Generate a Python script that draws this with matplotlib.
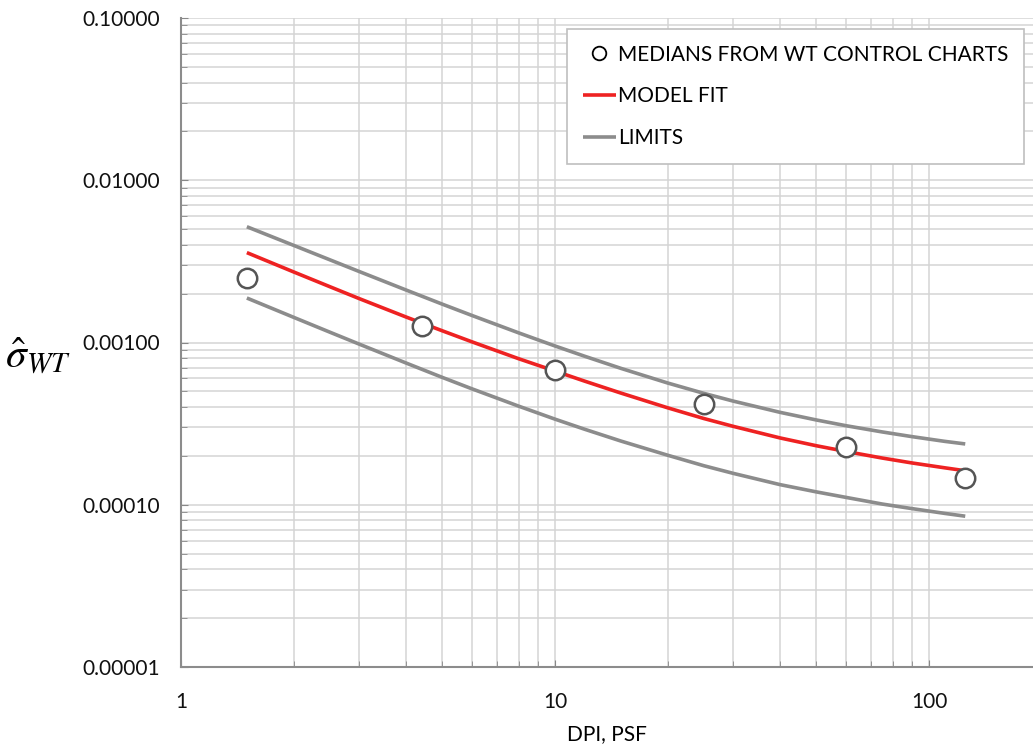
import numpy as np
import matplotlib
matplotlib.use("Agg")
import matplotlib.pyplot as plt
from matplotlib.ticker import FixedLocator, FixedFormatter, LogLocator, NullFormatter

plt.rcParams['font.family'] = ['Lato', 'DejaVu Sans']
plt.rcParams['mathtext.fontset'] = 'stix'

# medians
dpi_pts = [1.5, 4.4, 10, 25, 60, 125]
sigma_pts = [0.00249, 0.00126, 0.000677, 0.000416, 0.000228, 0.000147]

# curves (model fit and limits), read at these DPI values
dpi_curve = [1.5, 2, 2.5, 3, 4, 5, 6, 8, 10, 12, 15, 20, 25, 30, 40, 50, 60, 75, 90, 110, 125]
model_fit = [0.003581, 0.002723, 0.002208, 0.001862, 0.001435, 0.001180, 0.001009,
             0.000794, 0.000667, 0.000578, 0.000488, 0.000396, 0.000340, 0.000304,
             0.000258, 0.000231, 0.000213, 0.000194, 0.000181, 0.000169, 0.000162]
upper_lim = [0.00517, 0.003970, 0.003234, 0.002735, 0.002105, 0.001722, 0.001467,
             0.001146, 0.000952, 0.000823, 0.000693, 0.000563, 0.000486, 0.000435,
             0.000371, 0.000333, 0.000307, 0.000281, 0.000263, 0.000246, 0.000237]
lower_lim = [0.00188, 0.001430, 0.001158, 0.000976, 0.000747, 0.000609, 0.000518,
             0.000405, 0.000337, 0.000292, 0.000247, 0.000202, 0.000174, 0.000156,
             0.000133, 0.000120, 0.000111, 0.000101, 0.0000947, 0.0000885, 0.0000850]

y_ticks = [0.00001, 0.0001, 0.001, 0.01, 0.1]
y_labels = ["0.00001", "0.00010", "0.00100", "0.01000", "0.10000"]
x_ticks = [1, 10, 100]
x_labels = ["1", "10", "100"]

fig = plt.figure(figsize=(10.33, 7.53), dpi=100)
ax = fig.add_axes([181 / 1033, 86 / 753, 1 - 181 / 1033, 649 / 753])

ax.set_xscale("log")
ax.set_yscale("log")
ax.set_xlim(1, 10 ** ((1033 - 181) / 374))
ax.set_ylim(0.00001, 0.1)

ax.grid(True, which="both", color="#d4d4d4", linewidth=1.1)
ax.set_axisbelow(True)

ax.plot(dpi_curve, upper_lim, color="#8c8c8c", lw=2.6, label="LIMITS", solid_capstyle="butt")
ax.plot(dpi_curve, lower_lim, color="#8c8c8c", lw=2.6, solid_capstyle="butt")
ax.plot(dpi_curve, model_fit, color="#ee2222", lw=2.6, label="MODEL FIT", solid_capstyle="butt")
ax.plot(dpi_pts, sigma_pts, ls="none", marker="o", ms=14, mfc="white", mec="#555555",
        mew=1.8, label="MEDIANS FROM WT CONTROL CHARTS", zorder=5)

ax.xaxis.set_major_locator(FixedLocator(x_ticks))
ax.xaxis.set_major_formatter(FixedFormatter(x_labels))
ax.xaxis.set_minor_locator(LogLocator(base=10, subs=np.arange(2, 10)))
ax.xaxis.set_minor_formatter(NullFormatter())
ax.yaxis.set_major_locator(FixedLocator(y_ticks))
ax.yaxis.set_major_formatter(FixedFormatter(y_labels))
ax.yaxis.set_minor_locator(LogLocator(base=10, subs=np.arange(2, 10)))
ax.yaxis.set_minor_formatter(NullFormatter())

ax.tick_params(which="both", direction="in", color="#888888", labelsize=15, labelcolor="#111111")
ax.tick_params(which="major", length=5)
ax.tick_params(which="minor", length=4)
ax.tick_params(axis="x", which="major", pad=18)
ax.tick_params(axis="y", which="major", pad=15)

for s in ["top", "right"]:
    ax.spines[s].set_visible(False)
for s in ["left", "bottom"]:
    ax.spines[s].set_color("#8c8c8c")
    ax.spines[s].set_linewidth(1.5)

ax.set_xlabel("DPI, PSF", fontsize=15, labelpad=9)
fig.text(38 / 1033, 1 - 356 / 753, r"$\hat{\sigma}_{WT}$", fontsize=30, ha="center", va="center")

h, l = ax.get_legend_handles_labels()
order = [2, 1, 0]
leg = ax.legend([h[i] for i in order], [l[i] for i in order], loc="upper right",
                bbox_to_anchor=(1024 / 1033, 1 - 29 / 753), bbox_transform=fig.transFigure,
                fontsize=15, frameon=True, fancybox=False, framealpha=1, edgecolor="#bfbfbf",
                handlelength=1.6, handletextpad=0.1, labelspacing=1.05, borderpad=0.75,
                markerscale=0.7, borderaxespad=0)
leg.get_frame().set_linewidth(1.2)
leg.legend_handles[0].set_markeredgecolor("black")
leg.legend_handles[0].set_markeredgewidth(1.3)

fig.savefig("out.png", dpi=100)
